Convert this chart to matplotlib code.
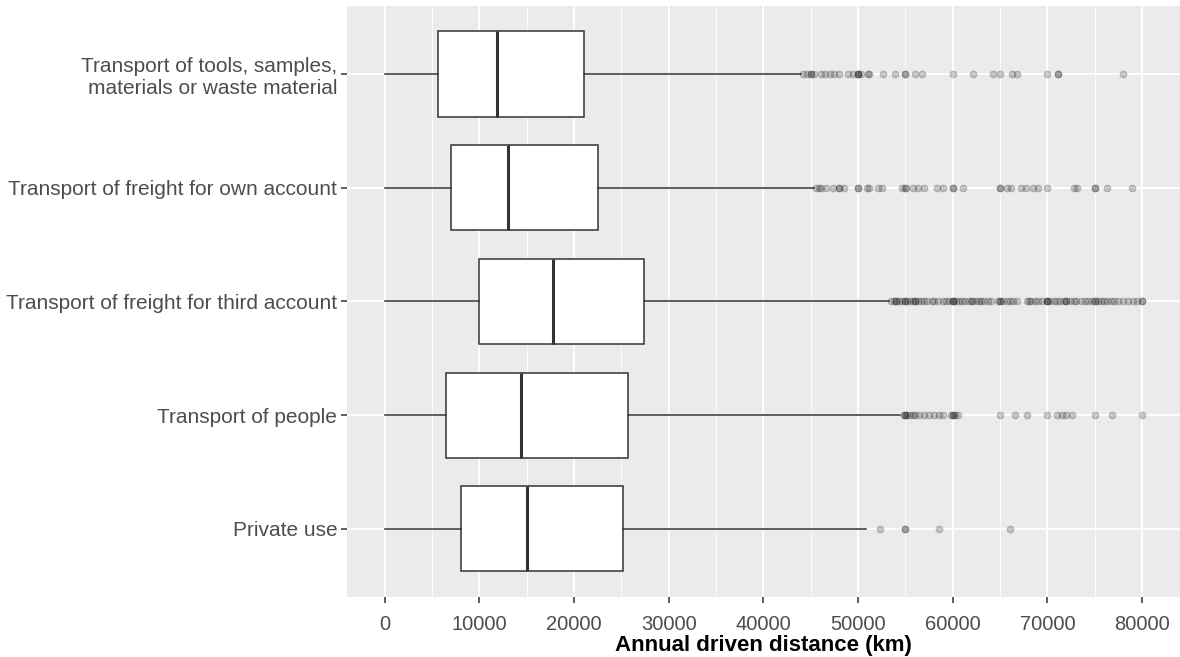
import numpy as np
import matplotlib
matplotlib.use("Agg")
import matplotlib.pyplot as plt
from matplotlib.ticker import MultipleLocator

plt.rcParams['font.family'] = ['Liberation Sans', 'DejaVu Sans']

# Categorias (de abajo hacia arriba)
categorias = ["Private use",
              "Transport of people",
              "Transport of freight for third account",
              "Transport of freight for own account",
              "Transport of tools, samples,\nmaterials or waste material"]

# Cuartiles
whisker_lo = [0, 0, 0, 0, 0]
q1 = [8000, 6500, 10000, 7000, 5600]
mediana = [15000, 14400, 17800, 13050, 11850]
q3 = [25200, 25700, 27400, 22500, 21000]
whisker_hi = [50800, 54400, 53300, 45300, 44000]

# Valores atipicos
out_private = [52300, 55000, 55000, 58500, 66000]
out_people = [54800, 55000, 55000, 55200, 55500, 55800, 56000, 56400, 57000, 57500,
              58000, 58500, 59000, 59800, 60000, 60000, 60200, 60500, 65000, 66600,
              67800, 70000, 71000, 71500, 72000, 72600, 75000, 76800, 80000]
out_third = [53500, 53800, 54000, 54000, 54300, 54600, 55000, 55000, 55200, 55500,
             55800, 56000, 56000, 56300, 56600, 57000, 57300, 57800, 58000, 58400,
             59000, 59300, 59600, 60000, 60000, 60000, 60300, 60700, 61000, 61300,
             61700, 62000, 62000, 62400, 62800, 63000, 63300, 63700, 64000,
             64800, 65000, 65000, 65300, 65700, 66000, 66400, 66800,
             67800, 68000, 68300, 68700, 69000, 69400,
             70000, 70000, 70000, 70300, 70700, 71000, 71300, 71700, 72000, 72000,
             72400, 72800, 73000, 73500, 74000, 74300, 74700, 75000, 75000, 75300,
             75700, 76000, 76300, 76700, 77000, 77500, 78000, 78500, 79000, 79500,
             80000, 80000]
out_own = [45500, 45900, 46100, 46600, 47300, 48000, 48000, 48500, 50000, 50000,
           50900, 51200, 52100, 52500, 54600, 55000, 55100, 55800, 56300, 57000,
           58300, 59000, 60000, 60000, 61100, 65000, 65000, 65700, 66200, 67200,
           67700, 68500, 69000, 70000, 72800, 73100, 75000, 75000, 76300, 78900]
out_tools = [44200, 44600, 45000, 45000, 45300, 46100, 46500, 47000, 47500, 48000,
             48900, 49500, 50000, 50000, 50000, 50300, 51000, 51200, 52600, 53900,
             55000, 55000, 56000, 56700, 60000, 62100, 64200, 65000, 66300, 66800,
             70000, 71100, 71100, 78000]

atipicos = [out_private, out_people, out_third, out_own, out_tools]

stats = []
for i in range(len(categorias)):
    stats.append({
        "whislo": whisker_lo[i], "q1": q1[i], "med": mediana[i],
        "q3": q3[i], "whishi": whisker_hi[i], "fliers": atipicos[i],
        "label": categorias[i]})

fig = plt.figure(figsize=(11.8, 6.57), dpi=100)
ax = fig.add_axes([0.294, 0.0913, 0.706, 0.8997])
ax.set_facecolor("#EBEBEB")

ax.bxp(stats, positions=np.arange(1, 6), widths=0.75, orientation="horizontal",
       patch_artist=True, showcaps=False,
       boxprops=dict(facecolor="white", edgecolor="#333333", linewidth=1.1),
       medianprops=dict(color="#333333", linewidth=2.2),
       whiskerprops=dict(color="#333333", linewidth=1.1),
       flierprops=dict(marker="o", markersize=5, markerfacecolor="black",
                       markeredgecolor="black", markeredgewidth=0.6, alpha=0.2,
                       linestyle="none"),
       zorder=3)

ax.set_xlim(-4000, 84000)
ax.set_ylim(0.4, 5.6)
ax.xaxis.set_major_locator(MultipleLocator(10000))
ax.xaxis.set_minor_locator(MultipleLocator(5000))
ax.grid(True, which="major", color="white", linewidth=1.3, zorder=0)
ax.grid(True, which="minor", axis="x", color="white", linewidth=0.6, zorder=0)
ax.set_axisbelow(True)
for s in ax.spines.values():
    s.set_visible(False)

ax.set_yticks(np.arange(1, 6))
ax.set_yticklabels(categorias)
ax.tick_params(axis="both", which="major", length=4, width=1.1, color="#333333",
               labelcolor="#4D4D4D")
ax.tick_params(axis="y", labelsize=15, pad=3)
ax.tick_params(axis="x", labelsize=14.5, pad=9)
ax.tick_params(axis="x", which="minor", length=0)
ax.set_xlabel("Annual driven distance (km)", fontsize=16, fontweight="bold",
              color="black", labelpad=1)

fig.savefig("out.png", dpi=100)
